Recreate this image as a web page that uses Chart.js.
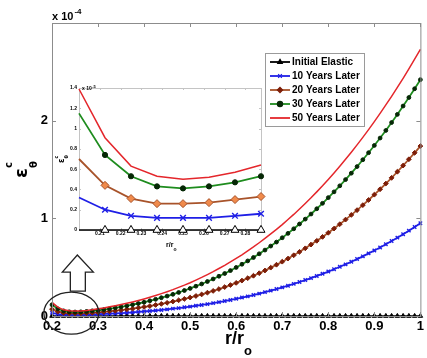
<!DOCTYPE html>
<html>
<head>
<meta charset="utf-8">
<script src="https://cdn.jsdelivr.net/npm/chart.js@4"></script>
<style>
  body { margin: 0; background: #fff; }
  #wrap { position: relative; width: 427px; height: 358px; }
  #wrap canvas { position: absolute; left: 0; top: 0; }
</style>
</head>
<body>
<div id="wrap">
  <canvas id="main" width="427" height="358"></canvas>
  <canvas id="inset" width="427" height="358"></canvas>
</div>
<script>
// r/ro positions of the computed points
var rValues = [
  0.2, 0.2125, 0.225, 0.2375, 0.25, 0.2625, 0.275, 0.2875,
  0.3, 0.3125, 0.325, 0.3375, 0.35, 0.3625, 0.375, 0.3875,
  0.4, 0.4125, 0.425, 0.4375, 0.45, 0.4625, 0.475, 0.4875,
  0.5, 0.5125, 0.525, 0.5375, 0.55, 0.5625, 0.575, 0.5875,
  0.6, 0.6125, 0.625, 0.6375, 0.65, 0.6625, 0.675, 0.6875,
  0.7, 0.7125, 0.725, 0.7375, 0.75, 0.7625, 0.775, 0.7875,
  0.8, 0.8125, 0.825, 0.8375, 0.85, 0.8625, 0.875, 0.8875,
  0.9, 0.9125, 0.925, 0.9375, 0.95, 0.9625, 0.975, 0.9875,
  1.0
];

// creep hoop strain, units of 1e-4
var initialElastic = [
  0, 0, 0, 0, 0, 0, 0, 0,
  0, 0, 0, 0, 0, 0, 0, 0,
  0, 0, 0, 0, 0, 0, 0, 0,
  0, 0, 0, 0, 0, 0, 0, 0,
  0, 0, 0, 0, 0, 0, 0, 0,
  0, 0, 0, 0, 0, 0, 0, 0,
  0, 0, 0, 0, 0, 0, 0, 0,
  0, 0, 0, 0, 0, 0, 0, 0,
  0
];
var years10 = [
  0.032, 0.020, 0.014, 0.012, 0.012, 0.012, 0.014, 0.016,
  0.018, 0.021, 0.023, 0.026, 0.030, 0.033, 0.037, 0.042,
  0.046, 0.051, 0.056, 0.062, 0.068, 0.075, 0.081, 0.089,
  0.096, 0.105, 0.113, 0.122, 0.132, 0.142, 0.153, 0.164,
  0.176, 0.189, 0.201, 0.215, 0.229, 0.244, 0.260, 0.276,
  0.293, 0.310, 0.329, 0.348, 0.368, 0.388, 0.410, 0.432,
  0.455, 0.479, 0.504, 0.529, 0.556, 0.583, 0.611, 0.641,
  0.671, 0.702, 0.734, 0.768, 0.802, 0.837, 0.874, 0.911,
  0.950
];
var years20 = [
  0.070, 0.044, 0.031, 0.026, 0.026, 0.027, 0.030, 0.033,
  0.037, 0.042, 0.048, 0.054, 0.061, 0.068, 0.075, 0.084,
  0.093, 0.102, 0.113, 0.124, 0.135, 0.148, 0.161, 0.175,
  0.189, 0.205, 0.221, 0.239, 0.257, 0.276, 0.296, 0.317,
  0.339, 0.363, 0.387, 0.412, 0.438, 0.466, 0.495, 0.525,
  0.556, 0.588, 0.622, 0.657, 0.693, 0.731, 0.770, 0.810,
  0.852, 0.895, 0.940, 0.987, 1.035, 1.084, 1.135, 1.188,
  1.242, 1.298, 1.356, 1.415, 1.477, 1.540, 1.605, 1.671,
  1.740
];
var years30 = [
  0.115, 0.074, 0.053, 0.043, 0.041, 0.043, 0.047, 0.053,
  0.058, 0.066, 0.074, 0.084, 0.093, 0.104, 0.116, 0.128,
  0.141, 0.156, 0.171, 0.187, 0.204, 0.222, 0.241, 0.261,
  0.282, 0.305, 0.328, 0.353, 0.379, 0.407, 0.435, 0.465,
  0.497, 0.530, 0.564, 0.599, 0.637, 0.675, 0.716, 0.757,
  0.801, 0.846, 0.893, 0.942, 0.992, 1.044, 1.098, 1.154,
  1.212, 1.271, 1.333, 1.397, 1.462, 1.530, 1.600, 1.672,
  1.746, 1.822, 1.900, 1.981, 2.064, 2.150, 2.237, 2.327,
  2.420
];
var years50 = [
  0.139, 0.091, 0.063, 0.053, 0.050, 0.052, 0.057, 0.064,
  0.074, 0.083, 0.094, 0.105, 0.117, 0.130, 0.144, 0.159,
  0.175, 0.192, 0.210, 0.229, 0.249, 0.270, 0.293, 0.316,
  0.341, 0.368, 0.395, 0.424, 0.454, 0.486, 0.519, 0.554,
  0.590, 0.627, 0.667, 0.707, 0.750, 0.794, 0.840, 0.887,
  0.936, 0.988, 1.040, 1.095, 1.152, 1.210, 1.271, 1.333,
  1.398, 1.464, 1.533, 1.604, 1.677, 1.752, 1.829, 1.908,
  1.990, 2.074, 2.161, 2.249, 2.341, 2.434, 2.530, 2.629,
  2.730
];

var seriesLabels = ['Initial Elastic', '10 Years Later', '20 Years Later', '30 Years Later', '50 Years Later'];

// tick labels
var xTicks = [0.2, 0.3, 0.4, 0.5, 0.6, 0.7, 0.8, 0.9, 1];
var xTickLabels = ['0.2', '0.3', '0.4', '0.5', '0.6', '0.7', '0.8', '0.9', '1'];
var yTicks = [0, 1, 2];
var yTickLabels = ['0', '1', '2'];
var insetCount = 8; // the inset zooms on the first points
var insetXTicks = [0.21, 0.22, 0.23, 0.24, 0.25, 0.26, 0.27, 0.28];
var insetXTickLabels = ['0.21', '0.22', '0.23', '0.24', '0.25', '0.26', '0.27', '0.28'];
var insetYTicks = [0, 0.2, 0.4, 0.6, 0.8, 1, 1.2, 1.4]; // units of 1e-5
var insetYTickLabels = ['0', '0.2', '0.4', '0.6', '0.8', '1', '1.2', '1.4'];

Chart.defaults.font.family = '"Liberation Sans", Arial, sans-serif';
Chart.defaults.color = '#000';

function toPoints(values, n) {
  var out = [];
  for (var i = 0; i < (n || values.length); i++) out.push({x: rValues[i], y: values[i]});
  return out;
}

// styles per series, main chart and inset share these
var styles = [
  {color: '#000000', pointStyle: 'triangle', fill: '#000000', insetFill: '#ffffff', width: 1.5},
  {color: '#1f1fe6', pointStyle: 'crossRot', fill: '#1f1fe6', insetFill: '#1f1fe6', width: 1.8},
  {color: '#a8532a', pointStyle: 'rectRot', fill: '#7d1e08', insetFill: '#f08a4b', width: 1.8},
  {color: '#1e8c1e', pointStyle: 'circle', fill: '#062806', insetFill: '#062806', width: 1.8},
  {color: '#e4262b', pointStyle: false, fill: '#e4262b', insetFill: '#e4262b', width: 1.5}
];
var seriesData = [initialElastic, years10, years20, years30, years50];

function buildDatasets(inset) {
  return seriesData.map(function (vals, k) {
    var s = styles[k];
    var rad = inset ? [4.6, 4, 4, 2.6, 0][k] : [2.6, 2.4, 2.4, 1.9, 0][k];
    return {
      label: seriesLabels[k],
      data: toPoints(vals, inset ? insetCount : null),
      borderColor: s.color,
      backgroundColor: s.color,
      borderWidth: s.width,
      pointStyle: s.pointStyle,
      pointBackgroundColor: inset ? s.insetFill : s.fill,
      pointBorderColor: k === 2 ? (inset ? '#a8532a' : '#7d1e08') : (k === 3 ? '#062806' : s.color),
      pointBorderWidth: k === 1 ? 1.4 : 1,
      pointRadius: inset ? function (c) { return c.dataIndex === 0 ? 0 : rad; } : rad,
      tension: 0,
      clip: false,
      order: 5 - k
    };
  });
}

function drawTitleEps(ctx, x, y, big, small, du, dvSub, dvSup) {
  ctx.save();
  ctx.translate(x, y);
  ctx.rotate(-Math.PI / 2);
  ctx.fillStyle = '#000';
  ctx.textAlign = 'left';
  ctx.textBaseline = 'alphabetic';
  ctx.font = 'bold ' + big + 'px "DejaVu Sans", sans-serif';
  ctx.fillText('\u03b5', 0, 0);
  ctx.font = 'bold ' + small + 'px "DejaVu Sans", sans-serif';
  ctx.fillText('\u03b8', du, dvSub);
  ctx.fillText('c', du, dvSup);
  ctx.restore();
}

function frameTicks(ctx, area, xs, ys, len, color) {
  ctx.save();
  ctx.strokeStyle = color;
  ctx.lineWidth = 1;
  ctx.strokeRect(area.left + 0.5, area.top + 0.5, area.right - area.left, area.bottom - area.top);
  ctx.beginPath();
  xs.forEach(function (px) {
    px = Math.round(px) + 0.5;
    ctx.moveTo(px, area.bottom); ctx.lineTo(px, area.bottom - len);
    ctx.moveTo(px, area.top); ctx.lineTo(px, area.top + len);
  });
  ys.forEach(function (py) {
    py = Math.round(py) + 0.5;
    ctx.moveTo(area.left, py); ctx.lineTo(area.left + len, py);
    ctx.moveTo(area.right, py); ctx.lineTo(area.right - len, py);
  });
  ctx.stroke();
  ctx.restore();
}

var mainDecor = {
  id: 'mainDecor',
  afterDraw: function (chart) {
    var ctx = chart.ctx, a = chart.chartArea;
    var xs = chart.scales.x, ys = chart.scales.y;
    frameTicks(ctx, a, xTicks.map(function (v) { return xs.getPixelForValue(v); }),
      yTicks.concat([3]).map(function (v) { return ys.getPixelForValue(v); }), 4, '#8c8c8c');

    // exponent label
    ctx.save();
    ctx.fillStyle = '#000';
    ctx.textBaseline = 'alphabetic';
    ctx.font = 'bold 11px "Liberation Sans", Arial, sans-serif';
    ctx.fillText('x 10', a.left, a.top - 3);
    var w = ctx.measureText('x 10').width;
    ctx.font = 'bold 8px "Liberation Sans", Arial, sans-serif';
    ctx.fillText('-4', a.left + w + 1, a.top - 9);

    // x title r/ro
    ctx.font = 'bold 18px "Liberation Sans", Arial, sans-serif';
    ctx.fillText('r/r', 225, 344);
    var w2 = ctx.measureText('r/r').width;
    ctx.font = 'bold 13px "Liberation Sans", Arial, sans-serif';
    ctx.fillText('o', 225 + w2, 355);
    ctx.restore();

    drawTitleEps(ctx, 27, 178, 18, 10, 10, 10, -15);

    // legend
    var lx = 265, ly = 53, lw = 99, lh = 73;
    ctx.save();
    ctx.fillStyle = '#fff';
    ctx.fillRect(lx, ly, lw, lh);
    ctx.strokeStyle = '#9a9a9a';
    ctx.lineWidth = 1;
    ctx.strokeRect(lx + 0.5, ly + 0.5, lw, lh);
    ctx.font = 'bold 10px "Liberation Sans", Arial, sans-serif';
    ctx.textBaseline = 'middle';
    chart.data.datasets.forEach(function (ds, k) {
      var y = ly + 9 + k * 14;
      ctx.strokeStyle = ds.borderColor;
      ctx.lineWidth = 1.8;
      ctx.beginPath();
      ctx.moveTo(lx + 5, y); ctx.lineTo(lx + 25, y);
      ctx.stroke();
      if (ds.pointStyle) {
        ctx.fillStyle = ds.pointBackgroundColor;
        ctx.strokeStyle = ds.pointBorderColor;
        ctx.lineWidth = 1.2;
        Chart.helpers.drawPoint(ctx, {pointStyle: ds.pointStyle, radius: 2.6, rotation: 0, borderWidth: 1.2}, lx + 15, y);
      }
      ctx.fillStyle = '#000';
      ctx.fillText(ds.label, lx + 27, y + 0.5);
    });
    ctx.restore();

    // zoom marker: ellipse round the start of the curves and a hollow arrow up to the inset
    var cx = xs.getPixelForValue(0.242), cy = ys.getPixelForValue(0.03);
    ctx.save();
    ctx.strokeStyle = '#222';
    ctx.lineWidth = 1.3;
    ctx.beginPath();
    ctx.ellipse(cx, cy, 27.5, 21, 0, 0, Math.PI * 2);
    ctx.stroke();
    var ax = cx + 6, top = cy - 58;
    ctx.beginPath();
    ctx.moveTo(ax, top);
    ctx.lineTo(ax + 16, top + 17);
    ctx.lineTo(ax + 8, top + 17);
    ctx.lineTo(ax + 8, top + 36);
    ctx.lineTo(ax - 7, top + 36);
    ctx.lineTo(ax - 7, top + 17);
    ctx.lineTo(ax - 15, top + 17);
    ctx.closePath();
    ctx.fillStyle = '#fff';
    ctx.fill();
    ctx.stroke();
    ctx.restore();
  }
};

new Chart(document.getElementById('main'), {
  type: 'line',
  data: {datasets: buildDatasets(false)},
  options: {
    responsive: false,
    animation: false,
    devicePixelRatio: 1,
    layout: {padding: {left: 0, top: 23, right: 3, bottom: 0}},
    plugins: {legend: {display: false}, tooltip: {enabled: false}},
    scales: {
      x: {
        type: 'linear', min: 0.2, max: 1,
        grid: {display: false, drawTicks: false},
        border: {display: false},
        afterBuildTicks: function (s) { s.ticks = xTicks.map(function (v) { return {value: v}; }); },
        afterFit: function (s) { s.height = 42; },
        ticks: {
          padding: 3, maxRotation: 0, autoSkip: false,
          font: {size: 13, weight: 'bold'},
          callback: function (v) { return xTickLabels[xTicks.indexOf(v)]; }
        }
      },
      y: {
        type: 'linear', min: 0, max: 3,
        grid: {display: false, drawTicks: false},
        border: {display: false},
        afterBuildTicks: function (s) { s.ticks = yTicks.map(function (v) { return {value: v}; }); },
        afterFit: function (s) { s.width = 52; },
        ticks: {
          padding: 4,
          font: {size: 13, weight: 'bold'},
          callback: function (v) { return yTickLabels[yTicks.indexOf(v)]; }
        }
      }
    }
  },
  plugins: [mainDecor]
});

var insetDecor = {
  id: 'insetDecor',
  beforeDatasetsDraw: function (chart) {
    var ctx = chart.ctx, a = chart.chartArea;
    ctx.save();
    ctx.fillStyle = '#fff';
    ctx.fillRect(a.left, a.top, a.right - a.left, a.bottom - a.top);
    ctx.restore();
    var xs = chart.scales.x, ys = chart.scales.y;
    frameTicks(ctx, a, insetXTicks.map(function (v) { return xs.getPixelForValue(v); }),
      insetYTicks.map(function (v) { return ys.getPixelForValue(v / 10); }), 2, '#c4c4c4');
  },
  afterDraw: function (chart) {
    var ctx = chart.ctx, a = chart.chartArea;
    ctx.save();
    ctx.fillStyle = '#000';
    ctx.font = 'bold 5px "Liberation Sans", Arial, sans-serif';
    ctx.fillText('x 10', a.left + 3, a.top + 2);
    var w = ctx.measureText('x 10').width;
    ctx.font = 'bold 4px "Liberation Sans", Arial, sans-serif';
    ctx.fillText('-5', a.left + 3 + w + 0.5, a.top - 0.5);
    ctx.font = 'bold 7px "Liberation Sans", Arial, sans-serif';
    ctx.fillText('r/r', 166, 247);
    var w2 = ctx.measureText('r/r').width;
    ctx.font = 'bold 5px "Liberation Sans", Arial, sans-serif';
    ctx.fillText('o', 166 + w2, 251);
    ctx.restore();
    drawTitleEps(ctx, 64, 163, 8, 5, 4.5, 4, -6);
  }
};

new Chart(document.getElementById('inset'), {
  type: 'line',
  data: {datasets: buildDatasets(true)},
  options: {
    responsive: false,
    animation: false,
    devicePixelRatio: 1,
    layout: {padding: {left: 0, top: 88, right: 166, bottom: 0}},
    plugins: {legend: {display: false}, tooltip: {enabled: false}},
    scales: {
      x: {
        type: 'linear', min: 0.2, max: 0.2875,
        grid: {display: false, drawTicks: false},
        border: {display: false},
        afterBuildTicks: function (s) { s.ticks = insetXTicks.map(function (v) { return {value: v}; }); },
        afterFit: function (s) { s.height = 128; },
        ticks: {
          padding: 1, maxRotation: 0, autoSkip: false,
          font: {size: 5, weight: 'bold'},
          callback: function (v) { return insetXTickLabels[insetXTicks.indexOf(v)]; }
        }
      },
      y: {
        type: 'linear', min: 0, max: 0.14,
        grid: {display: false, drawTicks: false},
        border: {display: false},
        afterBuildTicks: function (s) { s.ticks = insetYTicks.map(function (v) { return {value: v / 10}; }); },
        afterFit: function (s) { s.width = 79; },
        ticks: {
          padding: 2,
          font: {size: 5, weight: 'bold'},
          callback: function (v, i) { return insetYTickLabels[i]; }
        }
      }
    }
  },
  plugins: [insetDecor]
});
</script>
</body>
</html>
